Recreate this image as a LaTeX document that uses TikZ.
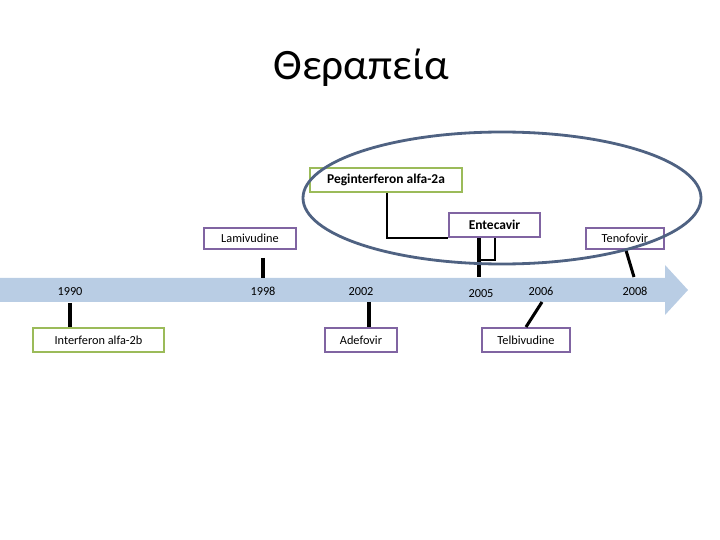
\documentclass[tikz,border=0pt]{standalone}
\usepackage{fontspec}
\setmainfont{Carlito}
\usetikzlibrary{positioning}

\definecolor{bandblue}{RGB}{185,205,228}
\definecolor{boxgreen}{RGB}{155,187,89}
\definecolor{boxpurple}{RGB}{128,100,162}
\definecolor{ringblue}{RGB}{79,98,130}

\tikzset{
  greenbox/.style={draw=boxgreen, line width=2pt, fill=white, inner sep=2pt, minimum height=0.72cm},
  purplebox/.style={draw=boxpurple, line width=2pt, fill=white, inner sep=2pt, minimum height=0.64cm},
  year/.style={font=\fontsize{10.5}{12}\selectfont, inner sep=1pt, anchor=base},
  stem/.style={line width=2.6pt, black},
}

\begin{document}
\begin{tikzpicture}[x=0.03cm, y=-0.03cm, font=\fontsize{10.5}{12}\selectfont]
  \useasboundingbox (0,0) rectangle (720,540);
  % title
  \node (title) at (361,68) {\fontsize{37}{42}\selectfont Θεραπεία};

  % time band
  \fill[bandblue] (0,278) -- (665,278) -- (665,265) -- (688,290) -- (665,315) -- (665,302) -- (0,302) -- cycle;

  % years
  \foreach \yr/\xx/\yy in {1990/70/295.5, 1998/263/295.5, 2002/361/295.5, 2005/481/297.5, 2006/541/295.5, 2008/635/295.5} {
    \node[year] (y\yr) at (\xx,\yy) {\yr};
  }

  % boxes
  \node[greenbox, minimum width=3.93cm] (ifn) at (98.5,340) {Interferon alfa-2b};
  \node[purplebox, minimum width=2.76cm] (lam) at (250,238.5) {Lamivudine};
  \node[purplebox, minimum width=2.16cm, minimum height=0.72cm] (ade) at (361,340) {Adefovir};
  \node[greenbox, minimum width=4.56cm, font=\fontsize{11.5}{13}\selectfont\bfseries] (peg) at (386,180) {Peginterferon alfa-2a};
  \node[purplebox, minimum width=2.73cm, minimum height=0.72cm, font=\fontsize{11.5}{13}\selectfont\bfseries] (ent) at (494.5,225) {Entecavir};
  \node[purplebox, minimum width=2.64cm, minimum height=0.72cm] (tel) at (526,340) {Telbivudine};
  \node[purplebox, minimum width=2.34cm] (ten) at (625,238.5) {Tenofovir};

  % stems
  \coordinate (c1990) at (70,303);
  \coordinate (c1998a) at (263,258);
  \coordinate (c1998b) at (263,278);
  \coordinate (c2002) at (369,302);
  \coordinate (c2005) at (479,277);
  \coordinate (c2005b) at (479,260);
  \coordinate (c2006a) at (542,302);
  \coordinate (c2006b) at (526,327);
  \coordinate (c2008) at (634,277);
  \draw[stem] (c1990) -- (c1990 |- ifn.north);
  \draw[stem] (c1998a) -- (c1998b);
  \draw[stem] (c2002) -- (c2002 |- ade.north);
  \draw[stem] (c2006a) -- (c2006b);
  \draw[stem] (ten.south) ++(1,0) -- (c2008);
  \draw[line width=2pt] (peg.south) ++(1,0) |- (ent.south west);
  \draw[line width=2pt] (ent.south) ++(0.5,0) |- (c2005b);
  \draw[stem] (c2005 |- ent.south) -- (c2005);

  % circled group
  \draw[ringblue, line width=2.4pt] (502,198) ellipse [x radius=199, y radius=66];
\end{tikzpicture}
\end{document}
